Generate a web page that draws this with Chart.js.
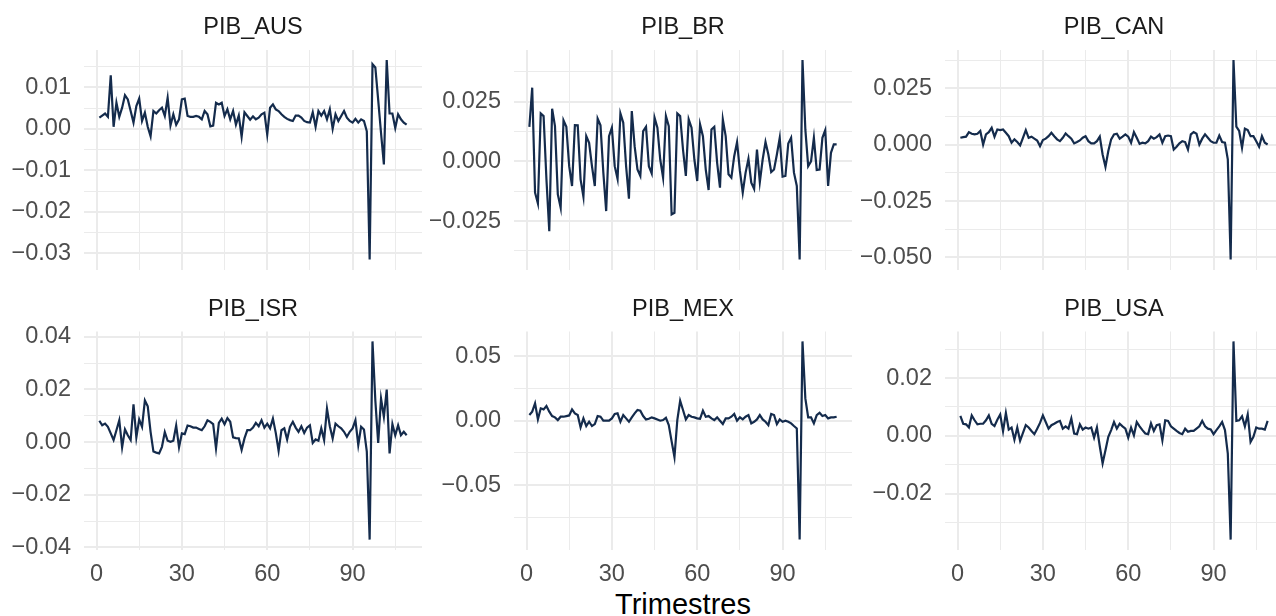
<!DOCTYPE html>
<html>
<head>
<meta charset="utf-8">
<script src="https://cdn.jsdelivr.net/npm/chart.js@4.4.1/dist/chart.umd.min.js"></script>
<style>
html, body { margin: 0; padding: 0; background: #fff; overflow: hidden; width: 1276px; height: 616px; }
canvas { position: absolute; }
#xtitle { position: absolute; left: 0; width: 1366px; top: 589px; line-height: 30px; text-align: center;
  font-family: "Liberation Sans", Arial, sans-serif; font-size: 29px; color: #000; }
</style>
</head>
<body>
<div id="xtitle">Trimestres</div>
<script>

// trimestres 1..109
const trimestres = Array.from({ length: 109 }, (_, i) => i + 1);
const xTicks = [0, 15, 30, 45, 60, 75, 90, 105];

const pib_aus = [
	0.0027, 0.0032, 0.0037, 0.0029, 0.0129, 0.0005, 0.0063, 0.0029, 0.0051, 0.0081,
	0.0071, 0.0043, 0.0015, 0.0055, 0.0073, 0.0019, 0.0039, 0.0005, -0.0018, 0.0043,
	0.0037, 0.0045, 0.0051, 0.0031, 0.0075, 0.0008, 0.0035, 0.0010, 0.0023, 0.0071,
	0.0073, 0.0031, 0.0029, 0.0029, 0.0031, 0.0029, 0.0023, 0.0043, 0.0035, 0.0006,
	0.0008, 0.0063, 0.0059, 0.0063, 0.0031, 0.0047, 0.0023, 0.0043, 0.0010, 0.0032,
	-0.0019, 0.0040, 0.0031, 0.0022, 0.0030, 0.0023, 0.0027, 0.0035, 0.0039, -0.0014,
	0.0051, 0.0059, 0.0047, 0.0043, 0.0035, 0.0029, 0.0024, 0.0021, 0.0019, 0.0032,
	0.0032, 0.0027, 0.0019, 0.0016, 0.0015, 0.0040, 0.0005, 0.0043, 0.0032, 0.0043,
	0.0023, 0.0047, 0.0000, 0.0035, 0.0019, 0.0031, 0.0043, 0.0027, 0.0019, 0.0015,
	0.0024, 0.0015, 0.0023, 0.0019, -0.0006, -0.0315, 0.0156, 0.0148, 0.0070, -0.0010,
	-0.0086, 0.0166, 0.0037, 0.0037, 0.0002, 0.0035, 0.0023, 0.0015, 0.0010
];

const pib_br = [
	0.0145, 0.0309, -0.0131, -0.0176, 0.0201, 0.0190, -0.0075, -0.0292, 0.0221, 0.0148,
	-0.0138, -0.0194, 0.0172, 0.0145, -0.0020, -0.0103, 0.0152, 0.0151, -0.0075, -0.0148,
	0.0106, 0.0078, -0.0020, -0.0103, 0.0179, 0.0151, -0.0047, -0.0208, 0.0106, 0.0141,
	-0.0020, -0.0073, 0.0201, 0.0162, -0.0020, -0.0156, 0.0211, 0.0064, -0.0034, -0.0061,
	0.0127, 0.0145, -0.0020, -0.0050, 0.0183, 0.0141, 0.0008, -0.0068, 0.0190, 0.0148,
	-0.0222, -0.0215, 0.0201, 0.0190, 0.0050, -0.0061, 0.0176, 0.0141, 0.0008, -0.0082,
	0.0155, 0.0106, -0.0034, -0.0120, 0.0134, 0.0145, -0.0006, -0.0110, 0.0176, 0.0106,
	-0.0054, -0.0068, 0.0022, 0.0081, -0.0040, -0.0131, -0.0047, 0.0011, -0.0089, -0.0115,
	0.0050, -0.0087, 0.0008, 0.0081, 0.0029, -0.0045, -0.0034, 0.0029, 0.0099, -0.0064,
	-0.0061, 0.0075, 0.0099, -0.0047, -0.0103, -0.0411, 0.0425, 0.0134, -0.0020, 0.0000,
	0.0099, -0.0036, -0.0034, 0.0099, 0.0131, -0.0103, 0.0036, 0.0071, 0.0071
];

const pib_can = [
	0.0031, 0.0034, 0.0036, 0.0056, 0.0049, 0.0046, 0.0049, 0.0061, 0.0001, 0.0046,
	0.0056, 0.0075, 0.0036, 0.0068, 0.0065, 0.0068, 0.0053, 0.0038, 0.0009, 0.0024,
	0.0012, -0.0003, 0.0031, 0.0065, 0.0031, 0.0036, 0.0027, 0.0019, -0.0006, 0.0021,
	0.0027, 0.0038, 0.0053, 0.0038, 0.0024, 0.0016, 0.0031, 0.0050, 0.0038, 0.0027,
	0.0006, 0.0012, 0.0019, 0.0031, 0.0038, 0.0016, 0.0006, 0.0006, 0.0016, 0.0036,
	-0.0043, -0.0098, -0.0028, 0.0024, 0.0046, 0.0049, 0.0027, 0.0036, 0.0046, 0.0036,
	0.0009, 0.0056, 0.0031, 0.0004, 0.0009, 0.0006, 0.0016, 0.0036, 0.0027, 0.0034,
	0.0046, 0.0009, 0.0038, 0.0041, 0.0038, -0.0021, -0.0009, 0.0006, 0.0016, 0.0012,
	-0.0021, 0.0046, 0.0056, 0.0049, 0.0001, 0.0027, 0.0046, 0.0031, 0.0016, 0.0009,
	0.0009, 0.0041, 0.0012, 0.0009, -0.0065, -0.0509, 0.0376, 0.0080, 0.0061, -0.0013,
	0.0071, 0.0065, 0.0038, 0.0038, 0.0016, -0.0009, 0.0038, 0.0009, 0.0001
];

const pib_isr = [
	0.0081, 0.0064, 0.0070, 0.0058, 0.0033, 0.0008, 0.0045, 0.0083, -0.0020, 0.0048,
	0.0026, 0.0008, 0.0143, 0.0018, 0.0086, 0.0058, 0.0158, 0.0136, 0.0039, -0.0036,
	-0.0040, -0.0043, -0.0018, 0.0038, 0.0005, 0.0001, 0.0005, 0.0063, -0.0020, 0.0033,
	0.0030, 0.0063, 0.0060, 0.0055, 0.0055, 0.0050, 0.0045, 0.0060, 0.0083, 0.0077,
	0.0068, -0.0024, 0.0073, 0.0089, 0.0068, 0.0091, 0.0077, 0.0018, 0.0015, 0.0014,
	-0.0030, 0.0014, 0.0045, 0.0045, 0.0055, 0.0073, 0.0060, 0.0083, 0.0055, 0.0070,
	0.0052, 0.0089, 0.0035, -0.0033, 0.0045, 0.0052, 0.0010, 0.0058, 0.0077, 0.0055,
	0.0039, 0.0060, 0.0035, 0.0055, 0.0064, -0.0003, 0.0010, 0.0005, 0.0052, 0.0008,
	0.0127, 0.0060, 0.0014, 0.0070, 0.0060, 0.0052, 0.0039, 0.0020, 0.0039, 0.0052,
	0.0083, -0.0011, 0.0058, 0.0048, -0.0036, -0.0370, 0.0382, 0.0158, -0.0003, 0.0165,
	0.0096, 0.0199, -0.0043, 0.0068, 0.0026, 0.0064, 0.0026, 0.0039, 0.0026
];

const pib_mex = [
	0.0044, 0.0070, 0.0134, 0.0010, 0.0096, 0.0088, 0.0114, 0.0070, 0.0036, 0.0026,
	0.0005, 0.0031, 0.0031, 0.0036, 0.0041, 0.0088, 0.0057, 0.0044, -0.0052, 0.0018,
	-0.0041, -0.0008, -0.0041, -0.0026, 0.0036, 0.0031, 0.0000, 0.0000, 0.0000, 0.0018,
	0.0052, 0.0057, -0.0008, 0.0044, 0.0018, -0.0008, 0.0026, 0.0057, 0.0083, 0.0078,
	0.0036, 0.0010, 0.0015, 0.0026, 0.0018, 0.0010, 0.0000, 0.0005, 0.0023, -0.0034,
	-0.0160, -0.0282, 0.0005, 0.0155, 0.0083, 0.0010, 0.0044, 0.0031, 0.0026, 0.0018,
	0.0015, 0.0078, 0.0031, 0.0036, 0.0018, 0.0005, 0.0026, 0.0000, -0.0026, 0.0018,
	0.0018, 0.0031, 0.0052, 0.0000, 0.0026, 0.0010, 0.0031, 0.0044, -0.0021, -0.0008,
	0.0010, 0.0044, 0.0010, -0.0008, -0.0034, 0.0052, 0.0044, -0.0026, 0.0010, -0.0008,
	0.0000, -0.0008, -0.0021, -0.0041, -0.0060, -0.0922, 0.0615, 0.0173, 0.0026, 0.0026,
	-0.0021, 0.0044, 0.0062, 0.0036, 0.0044, 0.0018, 0.0026, 0.0026, 0.0031
];

const pib_usa = [
	0.0069, 0.0042, 0.0040, 0.0029, 0.0071, 0.0054, 0.0040, 0.0042, 0.0042, 0.0054,
	0.0071, 0.0042, 0.0034, 0.0056, 0.0074, 0.0016, 0.0079, 0.0022, 0.0029, -0.0013,
	0.0029, -0.0017, 0.0010, 0.0037, 0.0029, 0.0017, 0.0006, 0.0025, 0.0045, 0.0071,
	0.0048, 0.0025, 0.0037, 0.0042, 0.0048, 0.0052, 0.0025, 0.0033, 0.0025, 0.0060,
	0.0008, 0.0006, 0.0040, 0.0022, 0.0029, 0.0025, 0.0029, -0.0006, 0.0029, -0.0036,
	-0.0095, -0.0050, -0.0003, 0.0020, 0.0048, 0.0025, 0.0042, 0.0033, 0.0025, -0.0006,
	0.0029, 0.0002, 0.0048, 0.0033, 0.0020, 0.0008, 0.0006, 0.0043, 0.0017, 0.0037,
	0.0040, -0.0015, 0.0054, 0.0052, 0.0033, 0.0025, 0.0017, 0.0010, 0.0006, 0.0025,
	0.0014, 0.0017, 0.0017, 0.0025, 0.0033, 0.0052, 0.0033, 0.0025, 0.0022, 0.0006,
	0.0020, 0.0033, 0.0048, 0.0020, -0.0061, -0.0359, 0.0327, 0.0052, 0.0054, 0.0068,
	0.0033, 0.0074, -0.0021, -0.0003, 0.0029, 0.0025, 0.0025, 0.0022, 0.0052
];

const paineis = [
	{ nome: 'PIB_AUS', valores: pib_aus, passo: 0.01, casas: 2 },
	{ nome: 'PIB_BR', valores: pib_br, passo: 0.025, casas: 3 },
	{ nome: 'PIB_CAN', valores: pib_can, passo: 0.025, casas: 3 },
	{ nome: 'PIB_ISR', valores: pib_isr, passo: 0.02, casas: 2 },
	{ nome: 'PIB_MEX', valores: pib_mex, passo: 0.05, casas: 2 },
	{ nome: 'PIB_USA', valores: pib_usa, passo: 0.02, casas: 2 },
];

// layout (pixels)
const fonte = '"Liberation Sans", Arial, sans-serif';
const largura_eixo_y = 84;
const largura_painel = 338;
const colunas = [0, 430, 861];
const linhas = [
	{ top: 0, padTop: 50, height: 272, eixoX: 2.5, rotulos: false },
	{ top: 280, padTop: 51.5, height: 310, eixoX: 40.5, rotulos: true },
];

const tituloPainel = {
	id: 'tituloPainel',
	afterDraw(chart, args, opts)
	{
		const { ctx, chartArea } = chart;
		ctx.save();
		ctx.font = '23.5px ' + fonte;
		ctx.fillStyle = '#1A1A1A';
		ctx.textAlign = 'center';
		ctx.textBaseline = 'middle';
		ctx.fillText(opts.texto, (chartArea.left + chartArea.right) / 2, chartArea.top - 22);
		ctx.restore();
	}
};

function expandir(valores)
{
	const lo = Math.min(...valores);
	const hi = Math.max(...valores);
	const pad = (hi - lo) * 0.05;
	return [lo - pad, hi + pad];
}

function formatar(v, casas)
{
	return v.toFixed(casas).replace('-', '\u2212');
}

function criarPainel(painel, indice)
{
	const col = indice % 3;
	const lin = linhas[Math.floor(indice / 3)];

	const canvas = document.createElement('canvas');
	canvas.width = largura_eixo_y + largura_painel;
	canvas.height = lin.height;
	canvas.style.left = colunas[col] + 'px';
	canvas.style.top = lin.top + 'px';
	document.body.appendChild(canvas);

	const [ymin, ymax] = expandir(painel.valores);
	const [xmin, xmax] = expandir(trimestres);
	const meio = painel.passo / 2;
	const ehMaior = (v) => Math.abs(v / painel.passo - Math.round(v / painel.passo)) < 1e-6;

	new Chart(canvas, {
		type: 'line',
		data: {
			labels: trimestres,
			datasets: [{
				data: painel.valores,
				borderColor: '#142B4C',
				borderWidth: 2.2,
				pointRadius: 0,
				tension: 0,
				fill: false,
			}],
		},
		options: {
			responsive: false,
			animation: false,
			devicePixelRatio: 1,
			layout: { padding: { top: lin.padTop, left: 0, right: 0, bottom: 0 } },
			plugins: {
				legend: { display: false },
				tooltip: { enabled: false },
				tituloPainel: { texto: painel.nome },
			},
			scales: {
				x: {
					type: 'linear',
					min: xmin,
					max: xmax,
					afterBuildTicks: (scale) => { scale.ticks = xTicks.map((v) => ({ value: v })); },
					afterFit: (scale) => {
						scale.height = lin.eixoX;
						scale.paddingLeft = 0;
						scale.paddingRight = 0;
					},
					border: { display: false },
					grid: {
						color: '#EBEBEB',
						drawTicks: false,
						lineWidth: (ctx) => (ctx.tick && ctx.tick.value % 30 === 0) ? 2 : 1,
					},
					ticks: {
						display: lin.rotulos,
						autoSkip: false,
						maxRotation: 0,
						padding: 11,
						color: '#4D4D4D',
						font: { family: fonte, size: 23.5 },
						callback: (v) => (v % 30 === 0) ? String(v) : '',
					},
				},
				y: {
					min: ymin,
					max: ymax,
					afterBuildTicks: (scale) => {
						const ticks = [];
						for (let k = Math.ceil(ymin / meio); k * meio <= ymax; k++)
						{
							ticks.push({ value: k * meio });
						}
						scale.ticks = ticks;
					},
					afterFit: (scale) => {
						scale.width = largura_eixo_y;
						scale.paddingTop = 0;
						scale.paddingBottom = 0;
					},
					border: { display: false },
					grid: {
						color: '#EBEBEB',
						drawTicks: false,
						lineWidth: (ctx) => (ctx.tick && ehMaior(ctx.tick.value)) ? 2 : 1,
					},
					ticks: {
						autoSkip: false,
						padding: 13,
						color: '#4D4D4D',
						font: { family: fonte, size: 23.5 },
						callback: (v) => ehMaior(v) ? formatar(v, painel.casas) : '',
					},
				},
			},
		},
		plugins: [tituloPainel],
	});
}

paineis.forEach(criarPainel);

</script>
</body>
</html>
